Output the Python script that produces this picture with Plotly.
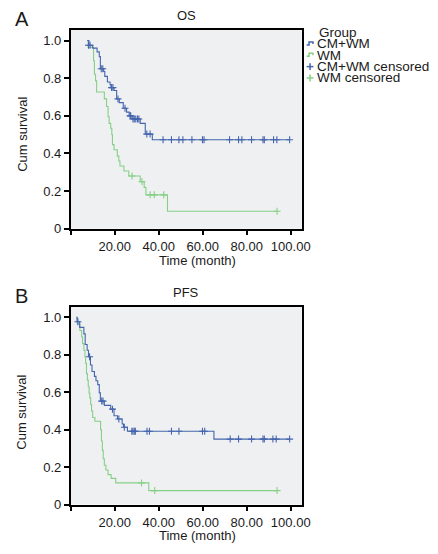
import plotly.graph_objects as go

# The page body has an 8px default margin, so the figure is drawn 8px in from the
# window's top-left corner; all layout positions below are given in window pixels.
WIN_W, WIN_H = 438, 554
OFF = 8
W, H = WIN_W - OFF, WIN_H - OFF

# ---------------- data ----------------
# OS, CM+WM
os_cmwm_start = 7.5
os_cmwm_t = [8.3, 10.0, 12.0, 13.0, 13.5, 15.0, 15.5, 16.7, 17.9, 18.3, 19.7, 20.9, 22.1,
             23.9, 25.4, 26.6, 27.9, 31.6, 33.9, 37.1]
os_cmwm_s = [0.975, 0.96, 0.94, 0.915, 0.85, 0.836, 0.81, 0.78, 0.765, 0.75, 0.735, 0.69, 0.67,
             0.64, 0.62, 0.60, 0.583, 0.56, 0.503, 0.473]
os_cmwm_end = 99.5
os_cmwm_cens_t = [8.1, 8.8, 13.9, 14.6, 18.6, 19.2, 21.5, 24.7, 27.0, 27.3, 28.3, 28.9, 29.6, 30.4,
                  31.0, 34.6, 36.1, 42.0, 45.8, 49.2, 51.0, 55.1, 59.9, 60.6, 72.2, 76.3, 77.8,
                  82.2, 87.4, 88.0, 92.2, 93.7, 99.5]
os_cmwm_cens_s = [0.975, 0.975, 0.85, 0.85, 0.75, 0.75, 0.69, 0.64, 0.60, 0.60, 0.583, 0.583, 0.583,
                  0.583, 0.583, 0.503, 0.503, 0.473, 0.473, 0.473, 0.473, 0.473, 0.473, 0.473,
                  0.473, 0.473, 0.473, 0.473, 0.473, 0.473, 0.473, 0.473, 0.473]

# OS, WM
os_wm_start = 8.0
os_wm_t = [8.0, 10.4, 10.8, 11.3, 11.8, 15.3, 16.3, 17.0, 17.5, 18.2, 18.7, 19.0, 19.7, 21.2,
           21.9, 22.4, 24.2, 26.4, 31.6, 33.4, 34.2, 44.0]
os_wm_s = [0.964, 0.893, 0.821, 0.786, 0.727, 0.69, 0.65, 0.595, 0.56, 0.534, 0.50, 0.447, 0.42,
           0.386, 0.36, 0.333, 0.307, 0.28, 0.25, 0.22, 0.18, 0.093]
os_wm_end = 93.8
os_wm_cens_t = [27.9, 32.4, 36.1, 38.0, 42.3, 93.8]
os_wm_cens_s = [0.28, 0.25, 0.18, 0.18, 0.18, 0.093]

# PFS, CM+WM
pfs_cmwm_start = 2.6
pfs_cmwm_t = [2.9, 4.1, 6.0, 6.6, 7.5, 8.1, 9.0, 9.7, 10.8, 11.5, 12.3, 13.0, 13.5, 15.3, 18.2,
              19.7, 21.3, 23.4, 24.0, 25.8, 65.1]
pfs_cmwm_s = [0.977, 0.947, 0.912, 0.855, 0.825, 0.79, 0.746, 0.711, 0.685, 0.662, 0.641, 0.597,
              0.553, 0.53, 0.51, 0.475, 0.457, 0.431, 0.413, 0.392, 0.35]
pfs_cmwm_end = 99.5
pfs_cmwm_cens_t = [3.3, 8.6, 14.1, 14.7, 19.0, 21.9, 24.4, 27.8, 28.3, 28.9, 29.4, 34.7, 35.8,
                   45.8, 49.2, 59.9, 60.9, 72.5, 76.3, 82.2, 87.4, 88.0, 91.9, 93.4, 99.5]
pfs_cmwm_cens_s = [0.977, 0.79, 0.553, 0.553, 0.51, 0.457, 0.413, 0.392, 0.392, 0.392, 0.392,
                   0.392, 0.392, 0.392, 0.392, 0.392, 0.392, 0.35, 0.35, 0.35, 0.35, 0.35, 0.35,
                   0.35, 0.35]

# PFS, WM
pfs_wm_start = 2.6
pfs_wm_t = [3.0, 4.2, 5.0, 5.4, 6.0, 6.5, 6.8, 7.2, 7.6, 8.0, 8.4, 8.7, 9.1, 9.5, 10.0, 11.0,
            13.6, 14.0, 14.4, 14.8, 15.3, 16.0, 17.0, 18.4, 20.5, 35.5]
pfs_wm_s = [0.965, 0.93, 0.895, 0.86, 0.825, 0.79, 0.755, 0.70, 0.665, 0.63, 0.595, 0.57, 0.535,
            0.50, 0.465, 0.445, 0.40, 0.34, 0.29, 0.245, 0.21, 0.185, 0.16, 0.14, 0.116, 0.075]
pfs_wm_end = 93.8
pfs_wm_cens_t = [32.2, 38.2, 93.8]
pfs_wm_cens_s = [0.116, 0.075, 0.075]

x_tickvals = [0, 20, 40, 60, 80, 100]
x_ticktext = ["", "20.00", "40.00", "60.00", "80.00", "100.00"]
y_tickvals = [0, 0.2, 0.4, 0.6, 0.8, 1.0]
y_ticktext = ["0", "0.2", "0.4", "0.6", "0.8", "1.0"]

BLUE = "#4565ad"
GREEN = "#86cf86"
FONT = "Liberation Sans, Arial, sans-serif"
TXT = "#1a1a1a"


def px_x(p):
    return (p - OFF) / W


def px_y(p):
    return 1 - (p - OFF) / H


def step_xy(start, times, surv, end):
    xs = [start] + list(times) + [end]
    ys = [1.0] + list(surv) + [surv[-1]]
    return xs, ys


fig = go.Figure()

panels = [
    ("x", "y", (os_cmwm_start, os_cmwm_t, os_cmwm_s, os_cmwm_end, os_cmwm_cens_t, os_cmwm_cens_s),
     (os_wm_start, os_wm_t, os_wm_s, os_wm_end, os_wm_cens_t, os_wm_cens_s)),
    ("x2", "y2", (pfs_cmwm_start, pfs_cmwm_t, pfs_cmwm_s, pfs_cmwm_end, pfs_cmwm_cens_t, pfs_cmwm_cens_s),
     (pfs_wm_start, pfs_wm_t, pfs_wm_s, pfs_wm_end, pfs_wm_cens_t, pfs_wm_cens_s)),
]

for xa, ya, cm, wm in panels:
    for data, col, name in [(wm, GREEN, "WM"), (cm, BLUE, "CM+WM")]:
        st, tt, ss, en, ct, cs = data
        xs, ys = step_xy(st, tt, ss, en)
        fig.add_trace(go.Scatter(x=xs, y=ys, mode="lines", line=dict(color=col, width=1.1, shape="hv"),
                                 xaxis=xa, yaxis=ya, showlegend=False, name=name))
        fig.add_trace(go.Scatter(x=ct, y=cs, mode="markers",
                                 marker=dict(symbol="cross-thin", size=5, line=dict(color=col, width=1.1)),
                                 xaxis=xa, yaxis=ya, showlegend=False, name=name + " censored"))

xdom = [px_x(72), px_x(308)]
axis_common = dict(showline=True, linecolor="black", linewidth=1.5, mirror=True,
                   ticks="outside", ticklen=5, tickwidth=1.5, tickcolor="black",
                   showgrid=False, zeroline=False, tickfont=dict(family=FONT, size=13, color=TXT))

fig.update_layout(
    width=W, height=H,
    margin=dict(l=0, r=0, t=0, b=0),
    paper_bgcolor="white",
    plot_bgcolor="#eff0f2",
    showlegend=False,
    xaxis=dict(domain=xdom, range=[0, 105], tickvals=x_tickvals, ticktext=x_ticktext,
               anchor="y", **axis_common),
    yaxis=dict(domain=[px_y(232), px_y(30)], range=[0, 1.058], tickvals=y_tickvals,
               ticktext=y_ticktext, anchor="x", **axis_common),
    xaxis2=dict(domain=xdom, range=[0, 105], tickvals=x_tickvals, ticktext=x_ticktext,
                anchor="y2", **axis_common),
    yaxis2=dict(domain=[px_y(512), px_y(311)], range=[0, 1.058], tickvals=y_tickvals,
                ticktext=y_ticktext, anchor="x2", **axis_common),
)

ann = []


def add_text(text, x, y, size=13, xanchor="center", angle=0):
    ann.append(dict(text=text, x=px_x(x), y=px_y(y), xref="paper", yref="paper",
                    showarrow=False, xanchor=xanchor, yanchor="middle", textangle=angle,
                    borderpad=0, font=dict(family=FONT, size=size, color=TXT)))


add_text("A", 22, 19, size=20)
add_text("B", 22, 300, size=20)
add_text("OS", 190, 16)
add_text("PFS", 190, 297)
add_text("Cum survival", 22, 136, angle=-90)
add_text("Cum survival", 22, 418, angle=-90)
add_text("Time (month)", 202, 264)
add_text("Time (month)", 202, 543)

legend_labels = ["Group", "CM+WM", "WM", "CM+WM censored", "WM censored"]
legend_y = [33, 44.5, 56, 67.5, 79]
legend_x = [325, 323, 323, 323, 323]
for lab, xx, yy in zip(legend_labels, legend_x, legend_y):
    add_text(lab, xx, yy, size=13.5, xanchor="left")

fig.update_layout(annotations=ann)

shapes = []
# legend symbols: small step lines and crosses
for yy, col in [(44.5, BLUE), (56, GREEN)]:
    path = "M {:.4f} {:.4f} L {:.4f} {:.4f} L {:.4f} {:.4f} L {:.4f} {:.4f} L {:.4f} {:.4f}".format(
        px_x(313), px_y(yy + 1), px_x(315.5), px_y(yy + 1), px_x(315.5), px_y(yy - 2),
        px_x(319.5), px_y(yy - 2), px_x(319.5), px_y(yy))
    shapes.append(dict(type="path", xref="paper", yref="paper", path=path,
                       line=dict(color=col, width=1.5)))
for yy, col in [(67.5, BLUE), (79, GREEN)]:
    shapes.append(dict(type="line", xref="paper", yref="paper", x0=px_x(313), x1=px_x(320),
                       y0=px_y(yy), y1=px_y(yy), line=dict(color=col, width=1.5)))
    shapes.append(dict(type="line", xref="paper", yref="paper", x0=px_x(316.5), x1=px_x(316.5),
                       y0=px_y(yy - 3.5), y1=px_y(yy + 3.5), line=dict(color=col, width=1.5)))

fig.update_layout(shapes=shapes)

fig.write_html("out.html")
